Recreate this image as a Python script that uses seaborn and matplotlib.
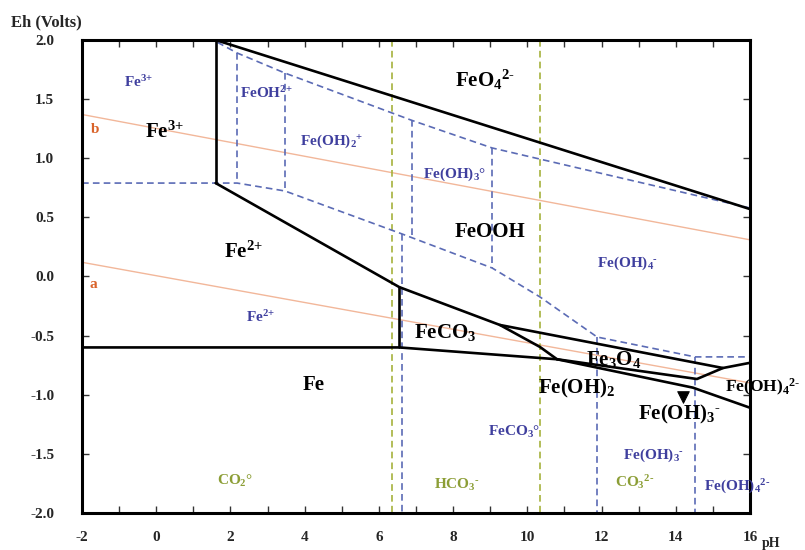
import numpy as np
import pandas as pd
import matplotlib
matplotlib.use("Agg")
import matplotlib.pyplot as plt
import seaborn as sns

# ---------------- data (pH, Eh in volts) ----------------
x_ticks = [-2, 0, 2, 4, 6, 8, 10, 12, 14, 16]
x_tick_labels = ["-2", "0", "2", "4", "6", "8", "10", "12", "14", "16"]
y_ticks = [2.0, 1.5, 1.0, 0.5, 0.0, -0.5, -1.0, -1.5, -2.0]
y_tick_labels = ["2.0", "1.5", "1.0", "0.5", "0.0", "-0.5", "-1.0", "-1.5", "-2.0"]

# solid phase boundaries
top_ph = [1.6, 16.0]
top_eh = [2.0, 0.57]
fe3_vert_ph = [1.6, 1.6]
fe3_vert_eh = [2.0, 0.79]
fe2_upper_ph = [1.6, 6.55, 9.26, 10.34, 10.8]
fe2_upper_eh = [0.79, -0.09, -0.41, -0.596, -0.70]
feco3_vert_ph = [6.55, 6.55]
feco3_vert_eh = [-0.09, -0.60]
fe_upper_ph = [-2.0, 6.55, 10.8, 14.46, 16.0]
fe_upper_eh = [-0.60, -0.60, -0.70, -0.94, -1.11]
fe3o4_upper_ph = [9.26, 15.27]
fe3o4_upper_eh = [-0.41, -0.774]
fe3o4_lower_ph = [10.8, 14.57, 15.27, 16.0]
fe3o4_lower_eh = [-0.70, -0.867, -0.774, -0.73]

# aqueous species boundaries (blue dashed)
aq_upper_ph = [1.65, 2.18, 3.47, 6.89, 9.05, 16.0]
aq_upper_eh = [1.98, 1.89, 1.72, 1.32, 1.087, 0.579]
aq_lower_ph = [-2.0, 2.18, 3.47, 6.62, 9.05, 10.34, 11.88, 14.52, 16.0]
aq_lower_eh = [0.79, 0.79, 0.723, 0.36, 0.072, -0.173, -0.512, -0.68, -0.68]
aq_vert_ph = [2.18, 3.47, 6.89, 6.62, 9.05, 11.88, 14.52]
aq_vert_top = [1.89, 1.72, 1.32, 0.36, 1.087, -0.512, -0.68]
aq_vert_bottom = [0.79, 0.723, 0.334, -2.0, 0.072, -2.0, -2.0]

# carbonate boundaries (green dashed)
carb_ph = [6.35, 10.33]

# water stability lines
water_ph = [-2.0, 16.0]
water_a_eh = [0.12, -0.90]
water_b_eh = [1.37, 0.31]

# arrow head marker
arrow_ph = [14.19]
arrow_eh = [-1.02]

# labels: (text, pH, Eh)
black_labels = [
    (r"Fe$^{\text{3+}}$", 0.21, 1.22),
    (r"FeO$_{\text{4}}$$^{\text{2-}}$", 8.86, 1.66),
    ("FeOOH", 9.0, 0.376),
    (r"Fe$^{\text{2+}}$", 2.34, 0.207),
    (r"FeCO$_{\text{3}}$", 7.78, -0.47),
    (r"Fe$_{\text{3}}$O$_{\text{4}}$", 12.34, -0.706),
    (r"Fe(OH)$_{\text{2}}$", 11.34, -0.95),
    (r"Fe(OH)$_{\text{3}}$$^{\text{-}}$", 14.09, -1.163),
    ("Fe", 4.25, -0.918),
]
black_edge_labels = [
    (r"Fe(OH)$_{\text{4}}$$^{\text{2-}}$", 15.33, -0.94),
]
blue_labels = [
    (r"Fe$^{\text{3+}}$", -0.49, 1.645),
    (r"FeOH$^{\text{2+}}$", 2.96, 1.55),
    (r"Fe(OH)$_{\text{2}}$$^{\text{+}}$", 4.74, 1.14),
    (r"Fe(OH)$_{\text{3}}$°", 8.05, 0.867),
    (r"Fe(OH)$_{\text{4}}$$^{\text{-}}$", 12.71, 0.114),
    (r"Fe$^{\text{2+}}$", 2.80, -0.343),
    (r"FeCO$_{\text{3}}$°", 9.64, -1.315),
    (r"Fe(OH)$_{\text{3}}$$^{\text{-}}$", 13.39, -1.51),
    (r"Fe(OH)$_{\text{4}}$$^{\text{2-}}$", 15.65, -1.78),
]
green_labels = [
    (r"CO$_{\text{2}}$°", 2.12, -1.73),
    (r"HCO$_{\text{3}}$$^{\text{-}}$", 8.1, -1.76),
    (r"CO$_{\text{3}}$$^{\text{2-}}$", 12.9, -1.74),
]
orange_labels = [("a", -1.70, -0.07), ("b", -1.65, 1.24)]

# ---------------- style ----------------
sns.set_theme(style="ticks")
plt.rcParams["font.family"] = ["Liberation Serif", "DejaVu Serif"]
plt.rcParams["font.weight"] = "bold"
plt.rcParams["mathtext.fontset"] = "custom"
plt.rcParams["mathtext.rm"] = "Liberation Serif:bold"
plt.rcParams["mathtext.it"] = "Liberation Serif:bold"
plt.rcParams["mathtext.bf"] = "Liberation Serif:bold"
plt.rcParams["axes.unicode_minus"] = False

BLUE_LINE = "#5b6bb5"
BLUE_TEXT = "#3f3f9e"
GREEN_LINE = "#a5b23c"
GREEN_TEXT = "#8c9e36"
ORANGE_LINE = "#f2b79a"
ORANGE_TEXT = "#d9632a"

fig = plt.figure(figsize=(8.05, 5.5), dpi=100)
ax = fig.add_axes([0.1019, 0.0673, 0.8298, 0.86])


def line(xs, ys, color, lw, ls="-", z=3):
    sns.lineplot(x=xs, y=ys, sort=False, estimator=None, color=color,
                 lw=lw, linestyle=ls, ax=ax, legend=False, zorder=z)


dash = (0, (4, 2.5))
# water lines
line(water_ph, water_a_eh, ORANGE_LINE, 1.0, z=1)
line(water_ph, water_b_eh, ORANGE_LINE, 1.0, z=1)
# carbonate
for p in carb_ph:
    line([p, p], [2.0, -2.0], GREEN_LINE, 1.2, dash, z=2)
# aqueous
line(aq_upper_ph, aq_upper_eh, BLUE_LINE, 1.2, dash, z=2)
line(aq_lower_ph, aq_lower_eh, BLUE_LINE, 1.2, dash, z=2)
for p, t, b in zip(aq_vert_ph, aq_vert_top, aq_vert_bottom):
    line([p, p], [t, b], BLUE_LINE, 1.2, dash, z=2)
# solids
for xs, ys in [(top_ph, top_eh), (fe3_vert_ph, fe3_vert_eh),
               (fe2_upper_ph, fe2_upper_eh), (feco3_vert_ph, feco3_vert_eh),
               (fe_upper_ph, fe_upper_eh), (fe3o4_upper_ph, fe3o4_upper_eh),
               (fe3o4_lower_ph, fe3o4_lower_eh)]:
    line(xs, ys, "black", 1.9, z=4)

sns.scatterplot(x=arrow_ph, y=arrow_eh, marker="v", s=70, color="black",
                edgecolor="black", ax=ax, zorder=5, legend=False)

for txt, px, py in black_labels:
    ax.text(px, py, txt, color="black", fontsize=15, ha="center", va="center",
            fontweight="bold", zorder=6)
for txt, px, py in black_edge_labels:
    ax.text(px, py, txt, color="black", fontsize=12.5, ha="left", va="center",
            fontweight="bold", zorder=6)
for txt, px, py in blue_labels:
    ax.text(px, py, txt, color=BLUE_TEXT, fontsize=11, ha="center", va="center",
            fontweight="bold", zorder=6)
for txt, px, py in green_labels:
    ax.text(px, py, txt, color=GREEN_TEXT, fontsize=11, ha="center", va="center",
            fontweight="bold", zorder=6)
for txt, px, py in orange_labels:
    ax.text(px, py, txt, color=ORANGE_TEXT, fontsize=11, ha="center", va="center",
            fontweight="bold", zorder=6)

ax.set_xlim(-2, 16)
ax.set_ylim(-2, 2)
ax.set_xticks(x_ticks)
ax.set_xticklabels(x_tick_labels)
ax.set_xticks(list(range(-1, 16, 2)), minor=True)
ax.set_yticks(y_ticks)
ax.set_yticklabels(y_tick_labels)
ax.set_xlabel("")
ax.set_ylabel("")
for s in ax.spines.values():
    s.set_visible(True)
    s.set_linewidth(2.2)
    s.set_color("black")
ax.tick_params(which="both", direction="in", length=5, width=1, color="#333333",
               top=True, right=True, labelsize=11)
ax.tick_params(axis="x", which="major", pad=13)
ax.tick_params(axis="y", which="major", pad=20)
for lab in ax.get_xticklabels() + ax.get_yticklabels():
    lab.set_fontweight("bold")

fig.text(0.058, 0.96, "Eh (Volts)", fontsize=12, fontweight="bold",
         ha="center", va="center")
fig.text(0.958, 0.0, "pH", fontsize=10, fontweight="bold", ha="center", va="bottom")

fig.savefig("out.png", dpi=100)
